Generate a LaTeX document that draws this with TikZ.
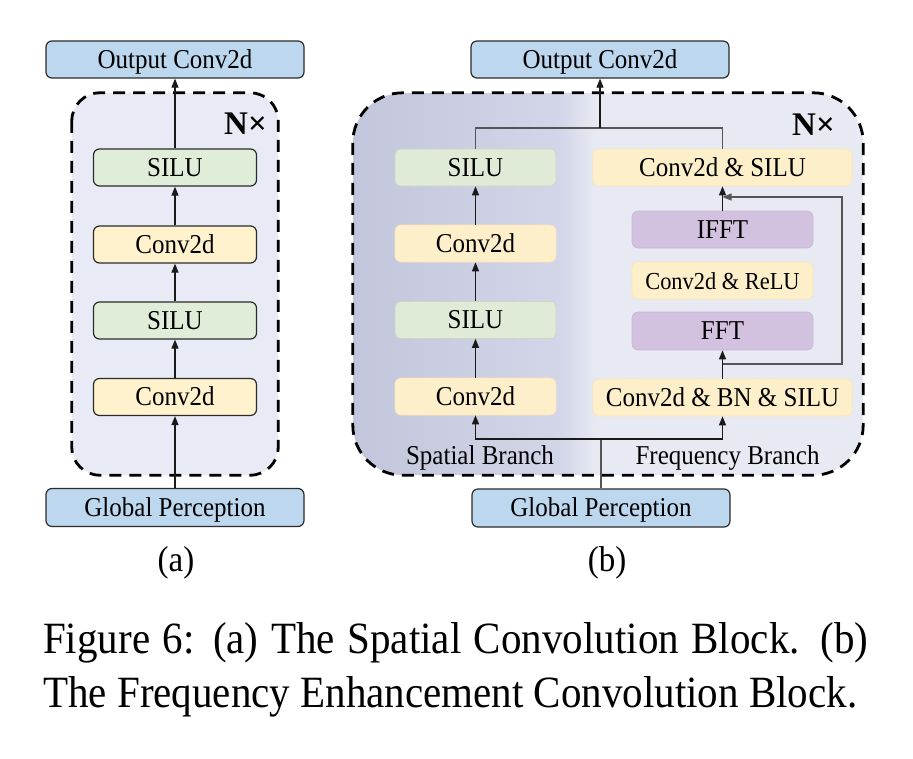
\documentclass[tikz,border=0pt]{standalone}
\usepackage{fontspec}
\setmainfont{Liberation Serif}
\usetikzlibrary{arrows.meta}
\newcommand{\ysc}[1]{\scalebox{1}[1.09]{#1}}
\definecolor{blueF}{HTML}{BDD7EE}
\definecolor{greenF}{HTML}{E0EDD8}
\definecolor{yellowF}{HTML}{FFF2CC}
\definecolor{purpleF}{HTML}{D3C1E0}
\definecolor{greenR}{HTML}{DFEBD7}
\definecolor{yellowR}{HTML}{FDEFC9}
\definecolor{panelL}{HTML}{E8EAF5}
\definecolor{panelR}{HTML}{E8EAF3}
\definecolor{gradA}{HTML}{C2C6DC}
\definecolor{gradB}{HTML}{D3D6E8}
\definecolor{bordc}{HTML}{2B2B2B}
\definecolor{arrc}{HTML}{1A1A1A}
\definecolor{linec}{HTML}{555555}
\begin{document}
\begin{tikzpicture}[x=1pt,y=-1pt,
  box/.style={rectangle, rounded corners=6pt, minimum height=37pt, inner sep=0pt,
    text height=18pt, text depth=1pt, font=\fontsize{25}{30}\selectfont},
  lbox/.style={box, draw=bordc, line width=1.2pt},
  rbox/.style={box, line width=0.6pt},
  arr/.style={-{Triangle[length=9pt,width=7pt]}, line width=1.2pt, draw=arrc},
  gline/.style={line width=1.1pt, draw=linec},
  garr/.style={-{Triangle[length=9pt,width=7pt]}, line width=1.1pt, draw=linec},
  dashb/.style={draw=black, line width=2.8pt, dash pattern=on 12pt off 8pt},
  lbl/.style={inner sep=0pt, font=\fontsize{25}{30}\selectfont},
  ntimes/.style={inner sep=0pt, font=\fontsize{33}{36}\selectfont\bfseries},
  sublbl/.style={inner sep=0pt, font=\fontsize{33}{36}\selectfont},
  captext/.style={inner sep=0pt, anchor=base west, font=\fontsize{41}{50}\selectfont}]
\useasboundingbox (0,0) rectangle (913,758);
\fill[white] (0,0) rectangle (913,758);

% ---------- panel (a) ----------
\node[rectangle, rounded corners=28pt, fill=panelL, minimum width=206pt, minimum height=382pt, inner sep=0pt] (regL) at (175,284) {};
\draw[dashb, rounded corners=28pt] (regL.north west) rectangle (regL.south east);
\node[ntimes, anchor=base] (nxL) at (245.5,134) {N×};

\node[lbox, fill=blueF, minimum width=258pt] (outL) at (175,59.5) {\ysc{Output Conv2d}};
\node[lbox, fill=greenF, minimum width=163pt] (silu1L) at (175,167.5) {\ysc{SILU}};
\node[lbox, fill=yellowF, minimum width=163pt] (conv1L) at (175,244.5) {\ysc{Conv2d}};
\node[lbox, fill=greenF, minimum width=163pt] (silu2L) at (175,320.5) {\ysc{SILU}};
\node[lbox, fill=yellowF, minimum width=163pt] (conv2L) at (175,397) {\ysc{Conv2d}};
\node[lbox, fill=blueF, minimum width=258pt, minimum height=38pt] (gpL) at (175,507.5) {\ysc{Global Perception}};

\draw[arr] (gpL.north) -- (conv2L.south);
\draw[arr] (conv2L.north) -- (silu2L.south);
\draw[arr] (silu2L.north) -- (conv1L.south);
\draw[arr] (conv1L.north) -- (silu1L.south);
\draw[arr] (silu1L.north) -- (outL.south);

\node[sublbl] (la) at (176,563) {\ysc{(a)}};

% ---------- panel (b) ----------
\begin{scope}
  \clip[rounded corners=50pt] (353,93) rectangle (863,475);
  \fill[panelR] (353,93) rectangle (863,475);
  \shade[left color=gradA, right color=gradB] (352,92) rectangle (562,476);
  \shade[left color=gradB, right color=panelR] (561,92) rectangle (597,476);
\end{scope}
\node[rectangle, minimum width=510pt, minimum height=382pt, inner sep=0pt] (regR) at (608,284) {};
\draw[dashb, rounded corners=50pt] (regR.north west) rectangle (regR.south east);
\node[ntimes, anchor=base] (nxR) at (813.5,135) {N×};

\node[lbox, fill=blueF, minimum width=258pt] (outR) at (600,59.5) {\ysc{Output Conv2d}};
\node[lbox, fill=blueF, minimum width=258pt, minimum height=38pt] (gpR) at (601,508) {\ysc{Global Perception}};

\node[rbox, fill=greenR, draw=greenR!85!black!60!greenR, minimum width=161pt] (siluA) at (475.5,167.5) {\ysc{SILU}};
\node[rbox, fill=yellowR, draw=yellowR!80!orange!50!yellowR, minimum width=161pt] (convA) at (475.5,243.5) {\ysc{Conv2d}};
\node[rbox, fill=greenR, draw=greenR!85!black!60!greenR, minimum width=161pt] (siluB) at (475.5,320) {\ysc{SILU}};
\node[rbox, fill=yellowR, draw=yellowR!80!orange!50!yellowR, minimum width=161pt] (convB) at (475.5,396.5) {\ysc{Conv2d}};

\node[rbox, fill=yellowR, draw=yellowR!80!orange!50!yellowR, minimum width=259pt] (cs) at (722.5,167.5) {\ysc{Conv2d \& SILU}};
\node[rbox, fill=purpleF, draw=purpleF!90!black!50!purpleF, minimum width=181pt] (ifft) at (722.5,229.5) {\ysc{IFFT}};
\node[rbox, fill=yellowR, draw=yellowR!80!orange!50!yellowR, minimum width=181pt, font=\fontsize{22.4}{26}\selectfont] (relu) at (722.5,280.5) {\ysc{Conv2d \& ReLU}};
\node[rbox, fill=purpleF, draw=purpleF!90!black!50!purpleF, minimum width=181pt, minimum height=38pt] (fft) at (722.5,331) {\ysc{FFT}};
\node[rbox, fill=yellowR, draw=yellowR!80!orange!50!yellowR, minimum width=259pt] (bn) at (722.5,397.5) {\ysc{Conv2d \& BN \& SILU}};

% spatial branch arrows
\draw[arr] (convB.north) -- (siluB.south);
\draw[arr] (siluB.north) -- (convA.south);
\draw[arr] (convA.north) -- (siluA.south);

% merge to output
\coordinate (jn) at (600,128);
\draw[gline] (siluA.north) |- (jn) -| (cs.north);
\draw[arr] (jn) -- (outR.south);

% frequency branch arrows
\draw[arr] (bn.north) -- (fft.south);
\draw[arr] (ifft.north) -- (cs.south);

% skip connection
\coordinate (sk1) at (722.5,364);
\coordinate (sk2) at (842,197);
\coordinate (sk3) at (722.5,197);
\draw[garr] (sk1) -| (sk2) -- (sk3);

% split from input
\coordinate (sp) at (601,439);
\draw[gline] (gpR.north) -- (sp);
\draw[arr] (sp) -| (convB.south);
\draw[arr] (sp) -| (bn.south);

\node[lbl, anchor=base] (spb) at (480,464) {\ysc{Spatial Branch}};
\node[lbl, anchor=base] (frb) at (727.5,464) {\ysc{Frequency Branch}};

\node[sublbl] (lb) at (607,563) {\ysc{(b)}};

% ---------- caption ----------
\node[captext] (cap1) at (43,653) {\ysc{\makebox[825pt][s]{Figure 6: (a) The Spatial Convolution Block. (b)}}};
\node[captext] (cap2) at (43,707) {\ysc{The Frequency Enhancement Convolution Block.}};
\end{tikzpicture}
\end{document}
